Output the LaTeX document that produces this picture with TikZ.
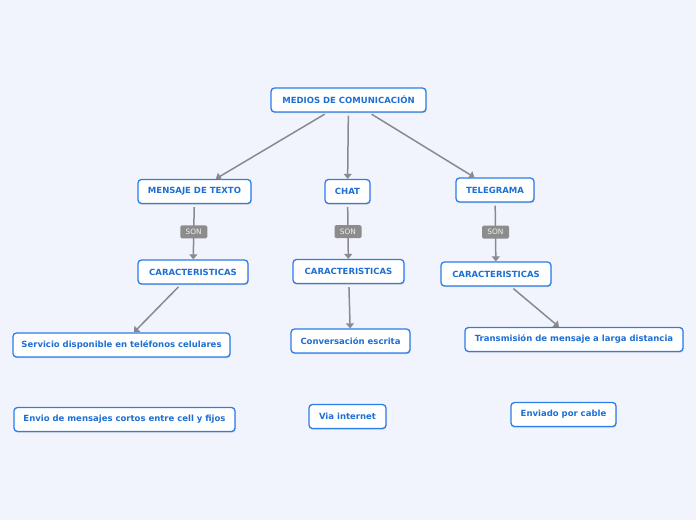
\documentclass[tikz,border=0pt]{standalone}
\usepackage{fontspec}
\setmainfont{DejaVu Sans}
\usetikzlibrary{arrows.meta,shadows}
\definecolor{bgc}{HTML}{F2F4FD}
\definecolor{boxblue}{HTML}{2B7DE9}
\definecolor{txtblue}{HTML}{1D6FD3}
\definecolor{arrgray}{HTML}{8A8A8E}
\definecolor{songray}{HTML}{8C8C8C}
\tikzset{
  topic/.style={draw=boxblue, line width=1.3pt, fill=white, rounded corners=3.5pt,
    minimum height=24pt, inner xsep=0pt, inner ysep=0pt,
    font=\fontsize{8.5pt}{10pt}\selectfont\bfseries, text=txtblue,
    drop shadow={shadow xshift=0.6pt, shadow yshift=-1.2pt, opacity=0.25, fill=black!60}},
  conn/.style={draw=arrgray, line width=1.5pt, shorten <=3pt,
    -{Triangle[length=5pt,width=8pt]}},
  sonlbl/.style={fill=songray, text=white!88!gray, rounded corners=1.5pt,
    minimum width=27pt, minimum height=13pt, inner sep=0pt,
    font=\fontsize{7.4pt}{8pt}\selectfont}
}
\begin{document}
\begin{tikzpicture}[x=1pt,y=-1pt]
\fill[bgc] (0,0) rectangle (696,520);
\useasboundingbox (0,0) rectangle (696,520);

\node[topic, minimum width=155pt] (root) at (348.5,100) {MEDIOS DE COMUNICACIÓN};
\node[topic, minimum width=113pt] (msg) at (194.5,191.5) {MENSAJE DE TEXTO};
\node[topic, minimum width=45pt] (chat) at (347.5,191.5) {CHAT};
\node[topic, minimum width=78pt] (tel) at (495,190) {TELEGRAMA};

\node[topic, minimum width=110pt] (c1) at (193,272) {CARACTERISTICAS};
\node[topic, minimum width=111pt] (c2) at (348.5,271.5) {CARACTERISTICAS};
\node[topic, minimum width=110pt] (c3) at (496,274) {CARACTERISTICAS};

\node[topic, minimum width=217pt] (serv) at (121.5,345) {Servicio disponible en teléfonos celulares};
\node[topic, minimum width=221pt] (envio) at (124.5,419.5) {Envio de mensajes cortos entre cell y fijos};
\node[topic, minimum width=119pt] (conv) at (350.5,341) {Conversación escrita};
\node[topic, minimum width=218pt] (trans) at (574,339.5) {Transmisión de mensaje a larga distancia};
\node[topic, minimum width=77pt] (via) at (347.5,416.5) {Via internet};
\node[topic, minimum width=105pt] (cable) at (563.5,414.5) {Enviado por cable};

\draw[conn] (root) -- (msg);
\draw[conn] (root) -- (chat);
\draw[conn] (root) -- (tel);

\draw[conn] (msg) -- node[sonlbl] (son1) {SON} (c1);
\draw[conn] (chat) -- node[sonlbl] (son2) {SON} (c2);
\draw[conn] (tel) -- node[sonlbl] (son3) {SON} (c3);

\draw[conn] (c1) -- (serv);
\draw[conn] (c2) -- (conv);
\draw[conn] (c3) -- (trans);
\end{tikzpicture}
\end{document}
